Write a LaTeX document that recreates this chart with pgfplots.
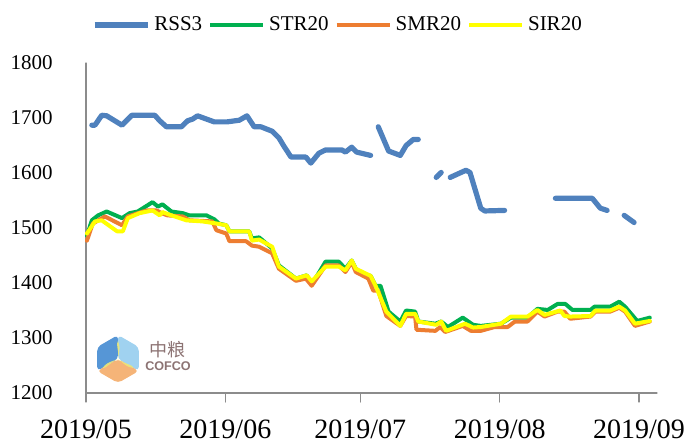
\documentclass[border=0pt]{standalone}
\usepackage{pgfplots}
\pgfplotsset{compat=1.18}
\usepackage{fontspec}
\setmainfont{Liberation Serif}
\newfontfamily\cjk{Noto Sans CJK SC}
\newfontfamily\logosans{Liberation Sans}
\definecolor{cblue}{RGB}{79,129,189}
\definecolor{cgreen}{RGB}{0,176,80}
\definecolor{corange}{RGB}{237,125,49}
\definecolor{cyellow}{RGB}{255,255,0}
\definecolor{axgray}{RGB}{140,140,140}
\definecolor{logotext}{RGB}{140,115,115}
\begin{document}
\begin{tikzpicture}
\begin{axis}[
  name=ax,
  scale only axis=true,
  width=285.5bp, height=165bp,
  xmin=0, xmax=127, ymin=1200, ymax=1800,
  axis x line=bottom, axis y line=left,
  axis line style={-, draw=axgray, line width=0.6bp},
  xtick={0,31,61,92,123},
  xticklabels={2019/05,2019/06,2019/07,2019/08,2019/09},
  ytick={1200,1300,1400,1500,1600,1700,1800},
  /pgf/number format/assume math mode=true,
  /pgf/number format/1000 sep={},
  x tick style={draw=axgray, line width=0.6bp},
  major tick length=4.5bp,
  tick align=outside,
  ytick style={draw=none},
  x tick label style={font=\fontsize{14bp}{16bp}\selectfont, anchor=north, inner sep=0pt, yshift=-8.5bp},
  y tick label style={font=\fontsize{10.5bp}{12bp}\selectfont, anchor=east, inner sep=0pt, xshift=-12bp},
  unbounded coords=jump,
  clip=false,
  legend columns=4,
  legend style={draw=none, fill=none, at={(0.443,1)}, anchor=center, yshift=19bp,
    font=\fontsize{10.5bp}{12bp}\selectfont, inner sep=0pt,
    /tikz/every even column/.append style={column sep=1bp},
    nodes={inner xsep=2bp, inner ysep=1bp}},
  legend image code/.code={\draw[#1] (0bp,0bp) -- (26.5bp,0bp);},
  line join=round, line cap=round,
]
\addplot[color=cblue, line width=2.6bp] coordinates {
(1.3,1687) (2.0,1687) (3.5,1705) (4.6,1704) (8.0,1687) (10.2,1705) (15.3,1705)
(16.4,1695) (17.9,1684) (21.2,1684) (22.6,1695) (23.7,1698) (24.8,1704)
(28.5,1693) (31.4,1693) (34.1,1696) (35.8,1704) (37.4,1684) (38.9,1684)
(41.4,1676) (42.9,1664) (44.0,1649) (45.6,1629) (48.9,1629) (50.0,1618)
(51.8,1636) (53.3,1642) (56.9,1642) (57.7,1638) (59.1,1647) (60.2,1638) (63.3,1632)
(64.2,nan)
(65.0,1684) (67.3,1640) (69.9,1632) (71.2,1650) (72.8,1661) (73.9,1661)
(76,nan)
(77.9,1592) (79.0,1601)
(80,nan)
(81.0,1592) (84.5,1605) (85.4,1601) (87.8,1536) (88.7,1531) (93.1,1532)
(99,nan)
(104.4,1554) (112.6,1554) (114.4,1536) (115.9,1532)
(118,nan)
(119.7,1523) (121.9,1510)
};
\addlegendentry{RSS3}
\addplot[color=cgreen, line width=2bp] coordinates {
(0.2,1486) (1.3,1514) (2.7,1523) (4.6,1530) (8.0,1518) (9.7,1527) (11.5,1530)
(14.8,1547) (16.0,1539) (17.0,1543) (19.0,1530) (21.5,1527) (23.0,1523)
(26.8,1523) (28.5,1516) (29.6,1508) (31.2,1505) (31.9,1494) (36.3,1494)
(36.9,1481) (38.5,1483) (41.4,1463) (42.9,1432) (46.7,1408) (49.1,1414)
(50.2,1397) (53.3,1439) (56.2,1439) (57.7,1426) (59.1,1441) (60.0,1426)
(61.3,1417) (63.3,1413) (64.4,1395) (65.5,1395) (67.3,1348) (69.9,1330)
(71.2,1350) (73.2,1348) (73.9,1330) (77.7,1326) (79.0,1330) (80.5,1320)
(83.8,1337) (86.1,1324) (87.8,1322) (92.3,1326) (94.5,1337) (98.2,1337)
(100.4,1353) (102.7,1351) (104.9,1362) (106.6,1362) (108.2,1351) (112.2,1351)
(113.1,1357) (116.6,1357) (118.6,1366) (119.9,1357) (122.6,1331) (125.4,1337)
};
\addlegendentry{STR20}
\addplot[color=corange, line width=2bp] coordinates {
(0.2,1477) (1.5,1508) (4.2,1521) (8.0,1505) (9.3,1521) (13.5,1532) (15.7,1532)
(16.8,1527) (18.1,1523) (21.5,1521) (23.0,1514) (28.1,1512) (29.0,1496)
(31.2,1490) (31.9,1476) (35.6,1476) (36.9,1468) (38.5,1466) (41.4,1454)
(42.9,1426) (46.7,1404) (48.9,1408) (50.2,1395) (53.3,1432) (56.2,1432)
(57.7,1420) (59.1,1438) (60.0,1420) (62.8,1408) (63.9,1386) (65.0,1386)
(66.8,1340) (69.9,1322) (71.2,1340) (73.2,1339) (73.5,1315) (77.7,1313)
(78.8,1320) (79.9,1311) (83.8,1322) (85.6,1313) (87.8,1313) (90.9,1320)
(93.8,1320) (95.4,1330) (98.2,1330) (100.4,1348) (102.0,1339) (104.9,1348)
(106.4,1348) (107.7,1335) (112.2,1339) (113.3,1348) (116.6,1348) (118.6,1355)
(119.9,1348) (122.1,1322) (125.4,1330)
};
\addlegendentry{SMR20}
\addplot[color=cyellow, line width=2bp] coordinates {
(0.2,1490) (2.0,1512) (3.5,1514) (6.9,1494) (8.2,1494) (9.3,1518) (11.9,1527)
(14.8,1532) (16.4,1523) (17.0,1529) (19.0,1523) (22.3,1514) (25.9,1512)
(29.2,1508) (31.2,1505) (31.9,1494) (36.3,1494) (36.9,1477) (38.5,1479)
(41.4,1466) (42.9,1430) (46.7,1408) (49.1,1414) (50.2,1403) (53.3,1430)
(56.2,1430) (57.7,1423) (59.1,1441) (60.0,1426) (63.3,1413) (64.4,1395)
(66.8,1348) (69.9,1322) (71.2,1344) (73.2,1344) (73.9,1330) (77.9,1324)
(79.0,1330) (80.1,1313) (84.3,1326) (86.1,1319) (87.8,1320) (92.3,1326)
(94.5,1339) (98.2,1339) (100.4,1351) (102.0,1342) (105.5,1350) (106.4,1340)
(107.7,1339) (112.2,1340) (113.3,1350) (116.6,1350) (118.6,1357) (119.9,1350)
(122.1,1326) (125.4,1331)
};
\addlegendentry{SIR20}
\end{axis}
% COFCO watermark logo
\begin{scope}[shift={([xshift=16bp,yshift=17bp]ax.south west)}]
  \fill[color={rgb,255:red,86;green,150;blue,214}, rounded corners=2bp] (90:12bp) -- (150:12bp) -- (210:12bp) -- (0,0) -- cycle;
  \fill[color={rgb,255:red,160;green,210;blue,240}, rounded corners=2bp] (90:12bp) -- (30:12bp) -- (-30:12bp) -- (0,0) -- cycle;
  \fill[color={rgb,255:red,245;green,180;blue,120}, rounded corners=2bp] (210:12bp) -- (270:12bp) -- (-30:12bp) -- (0,0) -- cycle;
  \fill[color={rgb,255:red,235;green,230;blue,120}, opacity=0.9] (0,0) .. controls (80:4bp) and (100:8bp) .. (90:9bp) .. controls (80:6bp) .. (0,0);
  \fill[color={rgb,255:red,235;green,230;blue,120}, opacity=0.9] (0,0) .. controls (200:4bp) and (220:8bp) .. (210:9bp) .. controls (200:6bp) .. (0,0);
  \fill[color={rgb,255:red,235;green,230;blue,120}, opacity=0.9] (0,0) .. controls (-40:4bp) and (-20:8bp) .. (-30:9bp) .. controls (-40:6bp) .. (0,0);
\end{scope}
\node[text=logotext, inner sep=0pt, font=\cjk\fontsize{9bp}{10bp}\selectfont] at ([xshift=40.75bp,yshift=21.75bp]ax.south west) {中粮};
\node[text=logotext, inner sep=0pt, font=\logosans\bfseries\fontsize{6.3bp}{7bp}\selectfont] at ([xshift=41bp,yshift=13.2bp]ax.south west) {COFCO};
\pgfresetboundingbox
\path[use as bounding box] ([xshift=-43bp,yshift=-24bp]ax.south west) rectangle ([xshift=302bp,yshift=196.5bp]ax.south west);
\end{tikzpicture}
\end{document}
